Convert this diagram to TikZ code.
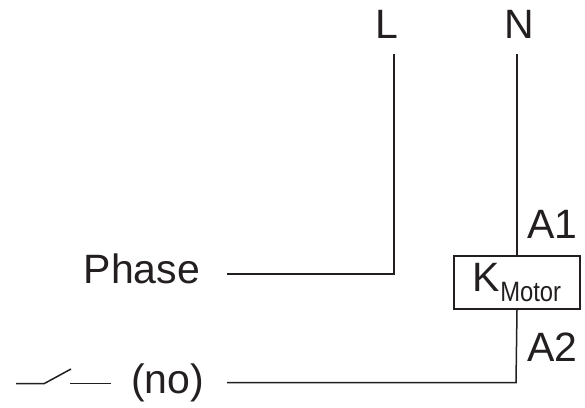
\documentclass[tikz,border=0pt]{standalone}
\usepackage{fontspec}
\setmainfont{Liberation Sans}
\newfontfamily\condfont[FakeStretch=0.85]{Liberation Sans}
\definecolor{ink}{HTML}{231F20}
\tikzset{
  x=1pt,y=-1pt,
  lbl/.style={inner sep=0pt,anchor=base west,text=ink,font=\fontsize{41}{41}\selectfont},
  wire/.style={draw=ink,line width=1.5pt,line join=miter},
  coilbox/.style={draw=ink,line width=1.5pt,minimum width=126pt,minimum height=53pt,inner sep=0pt,text=ink,font=\fontsize{41}{41}\selectfont}
}
\begin{document}
\begin{tikzpicture}
\useasboundingbox (0,0) rectangle (585,407);
\node[lbl] (L) at (375,38) {L};
\node[lbl] (N) at (504,38) {N};
\node[lbl] (phase) at (83.5,283) {Phase};
\node[lbl] (no) at (131,393) {(no)};
\node[lbl] (A1) at (527,238) {A1};
\node[lbl] (A2) at (527,361) {A2};
\node[coilbox] (coil) at (517,282.5) {\raisebox{-3.5pt}{K\raisebox{-10pt}{\condfont\fontsize{28}{28}\selectfont Motor}}};
\coordinate (Ltop) at (394,54);
\coordinate (Ntop) at (517,54);
\coordinate (Lcorner) at (394,274);
\coordinate (Nocorner) at (516,382.5);
\coordinate (phaseEnd) at (227,274);
\coordinate (noEnd) at (227,382.5);
\coordinate (swA) at (16,383.7);
\coordinate (swB) at (44,383.7);
\coordinate (swC) at (71,369);
\coordinate (swD) at (70,383.7);
\coordinate (swE) at (111,383.7);
\draw[wire] (Ltop) -- (Lcorner) -- (phaseEnd);
\draw[wire] (Ntop) -- (coil.north);
\draw[wire] (coil.south) -- (Nocorner) -- (noEnd);
\draw[wire] (swA) -- (swB) -- (swC);
\draw[wire] (swD) -- (swE);
\end{tikzpicture}
\end{document}
